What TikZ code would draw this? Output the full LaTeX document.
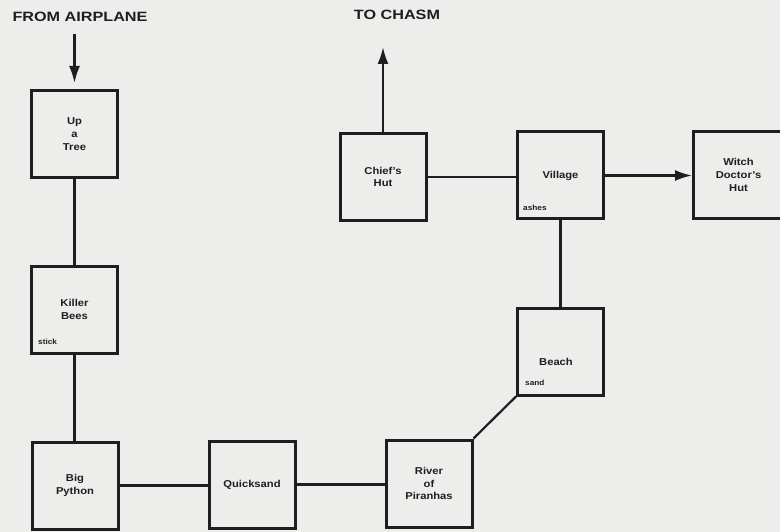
\documentclass[tikz,border=0pt]{standalone}
\usepackage{fontspec}
\setmainfont{Liberation Sans}
\usetikzlibrary{arrows.meta,calc}
\definecolor{paper}{RGB}{237,237,236}
\definecolor{ink}{RGB}{30,30,30}
\newcommand{\wide}[2]{\scalebox{#1}[1]{#2}}
\tikzset{
  room/.style={draw=ink, line width=3pt, rectangle, minimum width=86pt, minimum height=87pt,
    inner sep=0pt, align=center, font=\bfseries\fontsize{10}{12.8}\selectfont, text=ink},
  item/.style={anchor=west, inner sep=0pt, font=\bfseries\fontsize{7.5}{9}\selectfont, text=ink},
  title/.style={inner sep=0pt, font=\bfseries\fontsize{13.5}{16}\selectfont, text=ink},
  link/.style={draw=ink, line width=2.2pt},
  arr/.style={link, -{Latex[length=17pt,width=11pt]}}
}
\begin{document}
\begin{tikzpicture}[x=1pt,y=-1pt]
\fill[paper] (0,0) rectangle (780,532);
\useasboundingbox (0,0) rectangle (780,532);

\node[room] (tree) at (74.5,134) {\wide{1.12}{Up}\\\wide{1.12}{a}\\\wide{1.12}{Tree}};
\node[room] (bees) at (74.5,309.5) {\wide{1.12}{Killer}\\\wide{1.12}{Bees}};
\node[room] (python) at (75,485.5) {\wide{1.12}{Big}\\\wide{1.12}{Python}};
\node[room] (quick) at (252,484.5) {\wide{1.12}{Quicksand}};
\node[room] (river) at (429,483.5) {\wide{1.12}{River}\\\wide{1.12}{of}\\\wide{1.12}{Piranhas}};
\node[room] (beach) at (560.5,351.5) {};
\node[room] (chief) at (383,177) {\wide{1.12}{Chief's}\\\wide{1.12}{Hut}};
\node[room] (village) at (560.5,175.5) {\wide{1.12}{Village}};
\node[room, minimum width=90pt] (witch) at (738.5,175) {\wide{1.12}{Witch}\\\wide{1.12}{Doctor's}\\\wide{1.12}{Hut}};

\node[room, draw=none, minimum width=0pt, minimum height=0pt] (beachtxt) at (556,362) {\wide{1.12}{Beach}};
\node[item] (stick) at ($(bees.south west)+(8,-13)$) {\wide{1.1}{stick}};
\node[item] (ashes) at ($(village.south west)+(7,-13)$) {\wide{1.1}{ashes}};
\node[item] (sand) at ($(beach.south west)+(9,-14)$) {\wide{1.1}{sand}};

\node[title] (from) at (80,17) {\wide{1.2}{FROM AIRPLANE}};
\node[title] (chasm) at (397,15) {\wide{1.2}{TO CHASM}};

\coordinate (fromtail) at (74.5,34);
\coordinate (chasmtip) at (383,47);

\draw[arr, shorten >=6pt] (fromtail) -- (tree.north);
\draw[link] (tree.south) -- (bees.north);
\draw[link] (bees.south) -- (bees.south |- python.north);
\draw[link] (python.east) -- (python.east -| quick.west);
\draw[link] (quick.east) -- (quick.east -| river.west);
\draw[link] (river.north east) -- (beach.south west);
\draw[link] (beach.north) -- (village.south);
\draw[link] (chief.east) -- (chief.east -| village.west);
\draw[arr] (village.east) -- (village.east -| witch.west);
\draw[arr] (chief.north) -- (chasmtip);
\end{tikzpicture}
\end{document}
